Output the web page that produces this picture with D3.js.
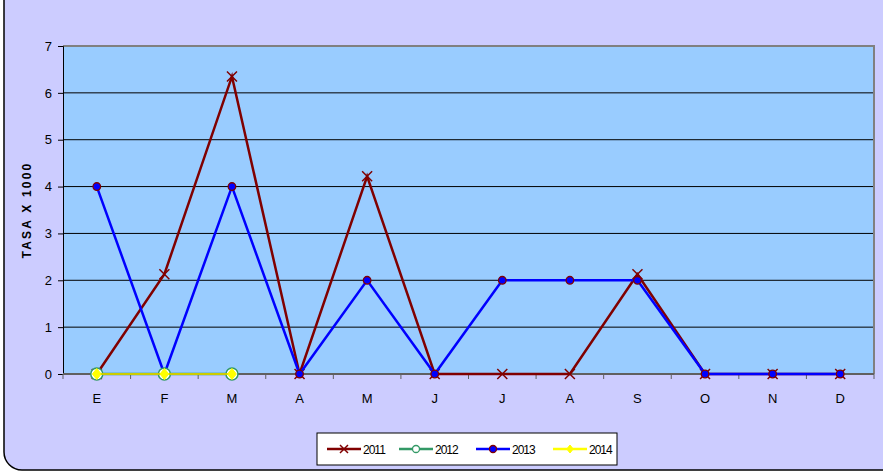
<!DOCTYPE html>
<html lang="es">
<head>
<meta charset="UTF-8">
<title>Tasa x 1000</title>
<style>
  body { margin: 0; background: #fff; }
  svg { display: block; font-family: "Liberation Sans", Arial, sans-serif; }
</style>
</head>
<body>
<svg id="chart"></svg>
<script src="https://d3js.org/d3.v7.min.js"></script>
<script>
var months = ["E", "F", "M", "A", "M", "J", "J", "A", "S", "O", "N", "D"];
var yTicks = [0, 1, 2, 3, 4, 5, 6, 7];
var s2011 = [0, 2.13, 6.35, 0, 4.22, 0, 0, 0, 2.13, 0, 0, 0];
var s2012 = [0, 0, 0];
var s2013 = [4, 0, 4, 0, 2, 0, 2, 2, 2, 0, 0, 0];
var s2014 = [0, 0, 0];
var seriesNames = ["2011", "2012", "2013", "2014"];

var width = 883, height = 472;
var plot = { left: 63, top: 46, right: 874, bottom: 374 };

var svg = d3.select("#chart").attr("width", width).attr("height", height);

// outer frame (rounded, cut off at top/right)
svg.append("rect")
  .attr("x", 4).attr("y", -20).attr("width", width + 20).attr("height", 490)
  .attr("rx", 18)
  .attr("fill", "#ccccff").attr("stroke", "#000").attr("stroke-width", 1.5);

var x = d3.scaleBand().domain(d3.range(12)).range([plot.left, plot.right]);
var y = d3.scaleLinear().domain([0, 7]).range([plot.bottom, plot.top]);
var cx = i => x(i) + x.bandwidth() / 2;

// plot area
svg.append("rect")
  .attr("x", plot.left).attr("y", plot.top)
  .attr("width", plot.right - plot.left).attr("height", plot.bottom - plot.top)
  .attr("fill", "#99ccff");

// gridlines
svg.append("g").selectAll("line").data(yTicks.filter(d => d > 0 && d < 7)).enter()
  .append("line")
    .attr("x1", plot.left).attr("x2", plot.right)
    .attr("y1", d => y(d)).attr("y2", d => y(d))
    .attr("stroke", "#000").attr("stroke-width", 1);
// top and right border
svg.append("path")
  .attr("d", "M" + plot.left + "," + plot.top + "H" + plot.right + "V" + plot.bottom)
  .attr("fill", "none").attr("stroke", "#808080").attr("stroke-width", 2);

// y axis
var yAxis = svg.append("g")
  .attr("transform", "translate(" + plot.left + ",0)")
  .call(d3.axisLeft(y).tickValues(yTicks).tickSize(5).tickPadding(6).tickFormat(d3.format("d")));
yAxis.select(".domain").attr("stroke", "#000");
yAxis.selectAll(".tick line").attr("stroke", "#000");
yAxis.selectAll("text").attr("font-size", 13).attr("fill", "#000");

// x axis
var xAxisG = svg.append("g").attr("transform", "translate(0," + plot.bottom + ")");
xAxisG.append("line").attr("x1", plot.left).attr("x2", plot.right)
  .attr("stroke", "#606060").attr("stroke-width", 2);
xAxisG.selectAll(".xt").data(d3.range(13)).enter().append("line")
  .attr("x1", i => plot.left + i * x.step()).attr("x2", i => plot.left + i * x.step())
  .attr("y1", 0).attr("y2", 5).attr("stroke", "#606060").attr("stroke-width", 1);
xAxisG.selectAll("text").data(months).enter().append("text")
  .attr("x", (d, i) => cx(i)).attr("y", 29)
  .attr("text-anchor", "middle").attr("font-size", 13).attr("fill", "#000")
  .text(d => d);

// y title
svg.append("text")
  .attr("transform", "translate(31," + ((plot.top + plot.bottom) / 2) + ") rotate(-90)")
  .attr("text-anchor", "middle").attr("font-size", 12).attr("font-weight", "bold")
  .attr("letter-spacing", 2.2)
  .text("TASA X 1000");

var line = d3.line().x((d, i) => cx(i)).y(d => y(d));

function drawX(g, px, py, r, color) {
  g.append("path")
    .attr("d", "M" + (px - r) + "," + (py - r) + "L" + (px + r) + "," + (py + r) +
               "M" + (px - r) + "," + (py + r) + "L" + (px + r) + "," + (py - r))
    .attr("stroke", color).attr("stroke-width", 1.5).attr("fill", "none");
}
function drawDiamond(g, px, py, r, color) {
  g.append("path")
    .attr("d", "M" + px + "," + (py - r) + "L" + (px + r * 0.8) + "," + py + "L" + px + "," + (py + r) + "L" + (px - r * 0.8) + "," + py + "Z")
    .attr("fill", color).attr("stroke", color).attr("stroke-linejoin", "round");
}

// 2011
var g11 = svg.append("g");
g11.append("path").datum(s2011).attr("d", line)
  .attr("fill", "none").attr("stroke", "#800000").attr("stroke-width", 2.5);
s2011.forEach((v, i) => drawX(g11, cx(i), y(v), 5, "#800000"));

// 2012
var g12 = svg.append("g");
g12.append("path").datum(s2012).attr("d", line)
  .attr("fill", "none").attr("stroke", "#339966").attr("stroke-width", 2.5);

// 2013
var g13 = svg.append("g");
g13.append("path").datum(s2013).attr("d", line)
  .attr("fill", "none").attr("stroke", "#0000ff").attr("stroke-width", 2.5);
g13.selectAll("circle").data(s2013).enter().append("circle")
  .attr("cx", (d, i) => cx(i)).attr("cy", d => y(d)).attr("r", 3.8)
  .attr("fill", "#0000ff").attr("stroke", "#800000").attr("stroke-width", 1.3);

g12.raise();
g12.selectAll("circle").data(s2012).enter().append("circle")
  .attr("cx", (d, i) => cx(i)).attr("cy", d => y(d)).attr("r", 6)
  .attr("fill", "#fff").attr("stroke", "#339966").attr("stroke-width", 1.5);

// 2014
var g14 = svg.append("g");
g14.append("path").datum(s2014).attr("d", line)
  .attr("fill", "none").attr("stroke", "#cccc00").attr("stroke-width", 2);
s2014.forEach((v, i) => drawDiamond(g14, cx(i), y(v), 5.5, "#ffff00"));

// legend
var lg = svg.append("g");
lg.append("rect").attr("x", 317).attr("y", 433).attr("width", 300).attr("height", 32)
  .attr("fill", "#fff").attr("stroke", "#000").attr("stroke-width", 1);
var legendX = [327, 399, 476, 553];
var legendColors = ["#800000", "#339966", "#0000ff", "#ffff00"];
seriesNames.forEach(function (name, k) {
  var lx = legendX[k], ly = 449;
  lg.append("line").attr("x1", lx).attr("x2", lx + 34).attr("y1", ly).attr("y2", ly)
    .attr("stroke", legendColors[k]).attr("stroke-width", 2.5);
  var mx = lx + 17;
  if (k === 0) drawX(lg, mx, ly, 4, legendColors[0]);
  if (k === 1) lg.append("circle").attr("cx", mx).attr("cy", ly).attr("r", 3.5)
    .attr("fill", "#fff").attr("stroke", legendColors[1]).attr("stroke-width", 1.3);
  if (k === 2) lg.append("circle").attr("cx", mx).attr("cy", ly).attr("r", 3.5)
    .attr("fill", "#0000ff").attr("stroke", "#800000").attr("stroke-width", 1.3);
  if (k === 3) drawDiamond(lg, mx, ly, 4, "#ffff00");
  lg.append("text").attr("x", lx + 36).attr("y", ly + 4.5)
    .attr("font-size", 12).attr("letter-spacing", -1).attr("fill", "#000").text(name);
});
</script>
</body>
</html>
